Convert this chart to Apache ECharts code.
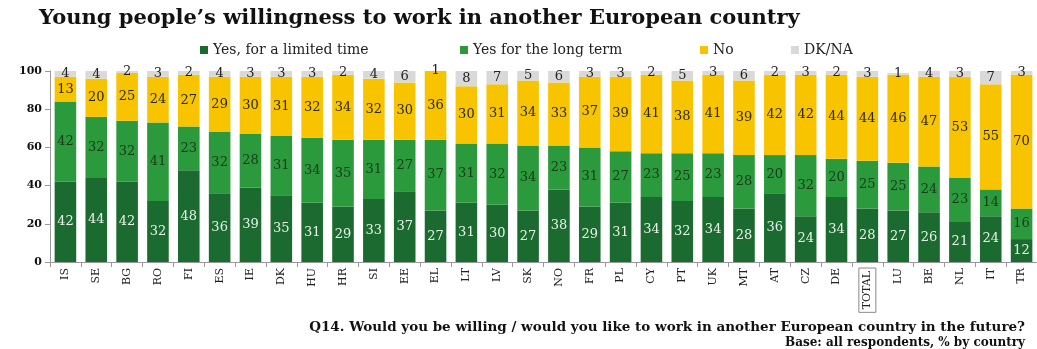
<!DOCTYPE html>
<html><head><meta charset="utf-8">
<script src="https://cdn.jsdelivr.net/npm/echarts@6/dist/echarts.min.js"></script>
<style>html,body{margin:0;padding:0;background:#fff}#c{width:1037px;height:349px}</style>
</head><body><div id="c"></div>
<script>
const categories = ['IS','SE','BG','RO','FI','ES','IE','DK','HU','HR','SI','EE','EL','LT','LV','SK','NO','FR','PL','CY','PT','UK','MT','AT','CZ','DE','TOTAL','LU','BE','NL','IT','TR'];
const limitedTime = [42,44,42,32,48,36,39,35,31,29,33,37,27,31,30,27,38,29,31,34,32,34,28,36,24,34,28,27,26,21,24,12];
const longTerm   = [42,32,32,41,23,32,28,31,34,35,31,27,37,31,32,34,23,31,27,23,25,23,28,20,32,20,25,25,24,23,14,16];
const noValues   = [13,20,25,24,27,29,30,31,32,34,32,30,36,30,31,34,33,37,39,41,38,41,39,42,42,44,44,46,47,53,55,70];
const dkna       = [4,4,2,3,2,4,3,3,3,2,4,6,1,8,7,5,6,3,3,2,5,3,6,2,3,2,3,1,4,3,7,3];
const yTicks = [0,20,40,60,80,100];
const seriesNames = ['Yes, for a limited time', 'Yes for the long term', 'No', 'DK/NA'];

const serif = '"DejaVu Serif", "Liberation Serif", serif';
const chart = echarts.init(document.getElementById('c'));
function mk(name, data, color, labelColor) {
  return {
    name, type: 'bar', stack: 'all', data, barWidth: '70%',
    itemStyle: { color },
    label: { show: true, position: 'inside', color: labelColor, fontFamily: serif, fontSize: 13 },
    emphasis: { disabled: true }
  };
}
const legendLefts = [195, 455, 695, 786];
chart.setOption({
  animation: false,
  backgroundColor: '#fff',
  title: [
    { text: 'Young people\u2019s willingness to work in another European country', left: 34, top: 3,
      textStyle: { fontFamily: serif, fontWeight: 'bold', fontSize: 21, color: '#111' } },
    { text: 'Q14. Would you be willing / would you like to work in another European country in the future?', right: 7, top: 315,
      textStyle: { fontFamily: serif, fontWeight: 'bold', fontSize: 13.5, color: '#111' } },
    { text: 'Base: all respondents, % by country', right: 7, top: 332,
      textStyle: { fontFamily: serif, fontWeight: 'bold', fontSize: 12, color: '#111' } }
  ],
  legend: seriesNames.map((n, i) => ({
    top: 38, left: legendLefts[i], itemWidth: 8, itemHeight: 8, icon: 'rect', itemGap: 4,
    textStyle: { fontFamily: serif, fontSize: 14, color: '#222' },
    data: [n]
  })),
  grid: { left: 50, right: -7, top: 71, bottom: 87, containLabel: false },
  xAxis: {
    type: 'category', data: categories,
    axisLine: { lineStyle: { color: '#999' } },
    axisTick: { show: true, alignWithLabel: false, lineStyle: { color: '#999' } },
    axisLabel: {
      rotate: 90, interval: 0, fontFamily: serif, fontSize: 11, color: '#222', margin: 6,
      formatter: v => v === 'TOTAL' ? '{box|TOTAL}' : v,
      rich: { box: { borderColor: '#888', borderWidth: 1, padding: [3, 3, 3, 3], fontFamily: serif, fontSize: 11, color: '#222' } }
    }
  },
  yAxis: {
    type: 'value', min: 0, max: 100, interval: 20,
    axisLine: { show: true, lineStyle: { color: '#999' } },
    axisTick: { show: true, lineStyle: { color: '#999' } },
    splitLine: { show: false },
    axisLabel: { fontFamily: serif, fontWeight: 'bold', fontSize: 11, color: '#111',
      formatter: v => yTicks.includes(v) ? String(v) : '' }
  },
  series: [
    mk(seriesNames[0], limitedTime, '#1b6b30', '#e8f2e8'),
    mk(seriesNames[1], longTerm, '#2a9a3c', '#1a3a1a'),
    mk(seriesNames[2], noValues, '#f8c400', '#2a2a10'),
    mk(seriesNames[3], dkna, '#d9d9d9', '#222')
  ]
});
</script></body></html>
